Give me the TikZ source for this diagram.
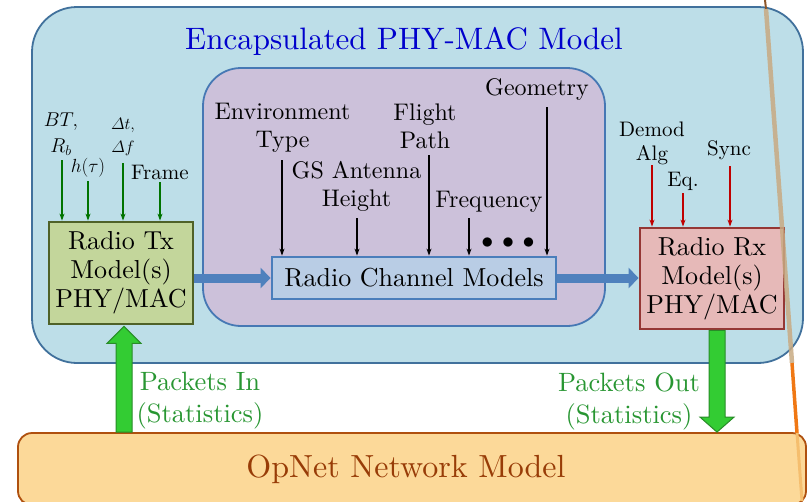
\RequirePackage{fix-cm}
\documentclass[tikz,border=0pt]{standalone}
\usepackage{amsmath}
\usepackage{fontspec}
\setmainfont{lmroman10-regular}[Extension=.otf, ItalicFont=lmroman10-italic, BoldFont=lmroman10-bold]
\usetikzlibrary{arrows.meta,calc}
\definecolor{outerfill}{RGB}{189,222,232}
\definecolor{outerline}{RGB}{65,113,156}
\definecolor{purplefill}{RGB}{204,193,218}
\definecolor{purpleline}{RGB}{70,120,180}
\definecolor{txfill}{RGB}{195,214,155}
\definecolor{txline}{RGB}{79,98,40}
\definecolor{chfill}{RGB}{185,205,229}
\definecolor{chline}{RGB}{74,126,187}
\definecolor{rxfill}{RGB}{230,185,184}
\definecolor{rxline}{RGB}{149,55,53}
\definecolor{opfill}{RGB}{252,217,153}
\definecolor{opline}{RGB}{175,80,15}
\definecolor{optext}{RGB}{152,60,7}
\definecolor{titleblue}{RGB}{0,0,204}
\definecolor{gfill}{RGB}{51,204,51}
\definecolor{gline}{RGB}{40,140,40}
\definecolor{gtext}{RGB}{40,150,50}
\definecolor{garrowc}{RGB}{0,115,0}
\definecolor{rarrowc}{RGB}{192,0,0}
\definecolor{barrowc}{RGB}{79,129,189}
\definecolor{tanline}{RGB}{200,170,130}
\definecolor{brownline}{RGB}{140,85,40}
\definecolor{orangeline}{RGB}{240,120,20}
\definecolor{lightorange}{RGB}{245,190,110}
\tikzset{
  boxtext/.style={font=\fontsize{26}{29}\selectfont, align=center, inner sep=0pt},
  outerbox/.style={draw=outerline, fill=outerfill, line width=1.8pt, rounded corners=45pt, inner sep=0pt},
  purplebox/.style={draw=purpleline, fill=purplefill, line width=1.8pt, rounded corners=38pt, inner sep=0pt},
  txbox/.style={boxtext, draw=txline, fill=txfill, line width=2.8pt},
  chbox/.style={boxtext, draw=chline, fill=chfill, line width=2.8pt},
  rxbox/.style={boxtext, draw=rxline, fill=rxfill, line width=2.8pt},
  opbox/.style={draw=opline, fill=opfill, line width=1.8pt, rounded corners=14pt, inner sep=0pt,
    text=optext, font=\fontsize{32}{36}\selectfont},
  chlabel/.style={font=\fontsize{24}{28}\selectfont, align=center, inner sep=0pt},
  smlabel/.style={font=\fontsize{21}{24}\selectfont, align=center, inner sep=0pt},
  pktlabel/.style={font=\fontsize{26.5}{32}\selectfont, align=center, inner sep=0pt, text=gtext},
  karrow/.style={line width=1.5pt, black, -{Stealth[length=7pt,width=5pt]}},
  garrow/.style={line width=1.5pt, garrowc, -{Stealth[length=7pt,width=5pt]}},
  rarrow/.style={line width=1.4pt, rarrowc, -{Stealth[length=7pt,width=5pt]}},
  barrow/.style={line width=9pt, barrowc, -{Triangle[length=10pt,width=20pt]}},
  fatg/.style={draw=gline, fill=gfill, line width=1pt, line join=miter},
}
\begin{document}
\begin{tikzpicture}[x=1pt,y=-1pt]
\useasboundingbox (0,0) rectangle (811,501);
\clip (0,0) rectangle (811,501);

% containers
\node[outerbox, minimum width=771pt, minimum height=356pt] (outer) at (417.5,185) {};
\node[font=\fontsize{31}{36}\selectfont, text=titleblue, inner sep=0pt, anchor=base] (title) at (404,49) {Encapsulated PHY-MAC Model};
\node[purplebox, minimum width=402pt, minimum height=258pt] (chan) at (404,197) {};
\node[opbox, minimum width=788pt, minimum height=72pt] (opnet) at (412,469) {OpNet Network Model\hspace*{12pt}};

% main boxes
\node[txbox, minimum width=144pt, minimum height=102pt] (tx) at (121,273) {Radio Tx\\Model(s)\\PHY/MAC};
\node[chbox, minimum width=284pt, minimum height=42pt] (ch) at (414,278) {Radio Channel Models};
\node[rxbox, minimum width=144pt, minimum height=101pt] (rx) at (712,278.5) {Radio Rx\\Model(s)\\PHY/MAC};

% Tx inputs
\node[smlabel, font=\fontsize{20}{26}\selectfont] (bt) at (61,134) {$BT,$\\$R_b$};
\node[smlabel, font=\fontsize{19}{24}\selectfont] (ht) at (88,168) {$h(\tau)$};
\node[smlabel, font=\fontsize{16.5}{23}\selectfont] (dt) at (123,137) {$\varDelta t,$\\$\varDelta f$};
\node[smlabel] (frame) at (160,172) {Frame};
\coordinate (abt) at (62,160);
\coordinate (aht) at (88,181);
\coordinate (adt) at (123,163);
\coordinate (afr) at (160,182);
\draw[garrow] (abt) -- (abt |- tx.north);
\draw[garrow] (aht) -- (aht |- tx.north);
\draw[garrow] (adt) -- (adt |- tx.north);
\draw[garrow] (afr) -- (afr |- tx.north);

% channel inputs
\node[chlabel] (env) at (282.5,127.5) {Environment\\Type};
\node[chlabel] (gs) at (356.5,186.5) {GS Antenna\\Height};
\node[chlabel] (fp) at (425,126.5) {Flight\\Path};
\node[chlabel] (fq) at (489,202) {Frequency};
\node[chlabel] (geo) at (537,89) {Geometry};
\node[chlabel] (dots) at (508,243) {$\bullet\mkern2.5mu\bullet\mkern2.5mu\bullet$};
\coordinate (aenv) at (282,160);
\coordinate (ags) at (357,218);
\coordinate (afp) at (429,155);
\coordinate (afq) at (469,218);
\coordinate (ageo) at (547,107);
\draw[karrow] (aenv) -- (aenv |- ch.north);
\draw[karrow] (ags) -- (ags |- ch.north);
\draw[karrow] (afp) -- (afp |- ch.north);
\draw[karrow] (afq) -- (afq |- ch.north);
\draw[karrow] (ageo) -- (ageo |- ch.north);

% Rx inputs
\node[smlabel] (dem) at (652,143) {Demod\\Alg};
\node[smlabel] (eq) at (683,181) {Eq.};
\node[smlabel] (sync) at (729,150) {Sync};
\coordinate (adem) at (652,165);
\coordinate (aeq) at (683,193);
\coordinate (asy) at (730,166);
\draw[rarrow] (adem) -- (adem |- rx.north);
\draw[rarrow] (aeq) -- (aeq |- rx.north);
\draw[rarrow] (asy) -- (asy |- rx.north);

% blue arrows
\draw[barrow] (tx.east |- ch.west) -- (ch.west);
\draw[barrow] (ch.east) -- (ch.east -| rx.west);

% packet arrows
\coordinate (pin) at ($(tx.south)+(3,1)$);
\draw[fatg] (pin) -- ++(17,17) -- ++(-9,0) -- ($(pin |- opnet.north)+(8,0)$) -- ++(-16,0)
  -- ($(pin)+(-8,17)$) -- ++(-9,0) -- cycle;
\coordinate (pout) at ($(rx.south)+(5,0)$);
\draw[fatg] ($(pout)+(-8,0)$) -- ($(pout)+(8,0)$) -- ($(pout |- opnet.north)+(8,-15)$) -- ++(9,0)
  -- (pout |- opnet.north) -- ++(-17,-15) -- ++(9,0) -- cycle;
\node[pktlabel] (pktin) at (200,401) {Packets In\\(Statistics)};
\node[pktlabel] (pktout) at (629,401) {Packets Out\\(Statistics)};

% stray diagonal line at the right edge
\draw[line width=2pt, brownline] (765,0) -- (766,9);
\draw[line width=4.5pt, tanline, opacity=0.85] (766,9) -- (792,363);
\draw[line width=3.5pt, orangeline] (792,363) -- (797,433);
\draw[line width=3pt, lightorange] (797,433) -- (802,501);
\end{tikzpicture}
\end{document}
